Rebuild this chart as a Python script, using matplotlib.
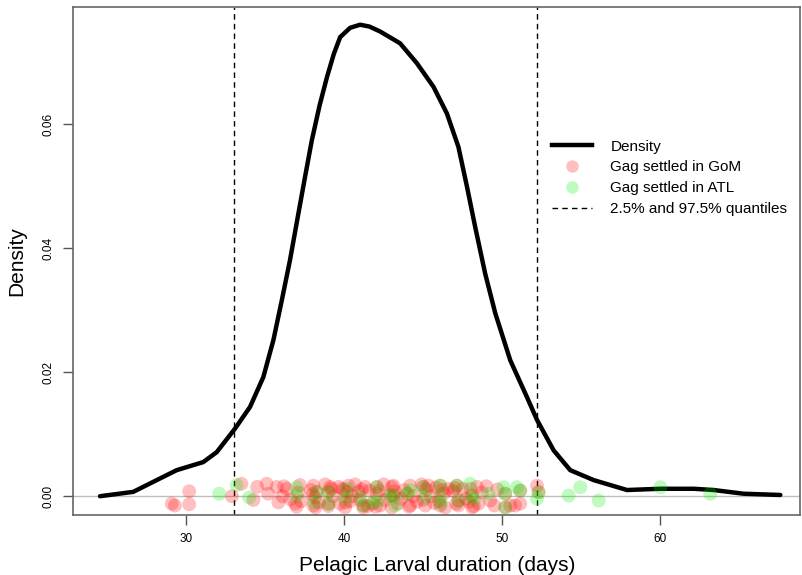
import matplotlib.pyplot as plt
from matplotlib.lines import Line2D

plt.rcParams['font.family'] = ['Liberation Sans', 'DejaVu Sans']

# density curve
dens_x = [24.56, 26.66, 28.15, 29.41, 31.09, 31.94, 33.10, 34.05, 34.89, 35.53,
          36.06, 36.58, 37.11, 37.53, 37.96, 38.45, 38.92, 39.35, 39.75, 40.38,
          41.01, 41.6, 42.28, 43.54, 44.60, 45.65, 46.50, 47.23, 47.77, 48.29,
          48.92, 49.56, 50.51, 51.56, 52.20, 53.25, 54.30, 55.78, 57.89, 60.0,
          62.11, 63.37, 65.27, 67.59]
dens_y = [0.0, 0.0007, 0.0026, 0.0042, 0.0055, 0.0071, 0.0109, 0.0144, 0.0192, 0.0252,
          0.0316, 0.0381, 0.0456, 0.0515, 0.0574, 0.0630, 0.0676, 0.0713, 0.0740, 0.0755,
          0.0760, 0.0757, 0.0749, 0.0730, 0.0698, 0.0660, 0.0617, 0.0563, 0.0499, 0.0434,
          0.0359, 0.0295, 0.0219, 0.0160, 0.0123, 0.0074, 0.0042, 0.0026, 0.0010, 0.0012,
          0.0012, 0.0010, 0.0004, 0.0002]

q_low, q_high = 33.05, 52.2

gom_x = [29.1, 29.3, 30.2, 30.2, 32.9, 33.5, 34.26, 34.5, 35.1, 35.2,
         35.74, 35.84, 36.37, 36.9, 38.06, 38.06, 38.16, 38.27, 39.11, 39.01,
         39.01, 39.64, 39.75, 40.17, 40.27, 40.06, 40.91, 41.22, 41.33, 42.07,
         42.07, 42.28, 42.91, 43.02, 43.12, 43.12, 44.18, 44.18, 45.02, 45.13,
         45.34, 46.08, 46.08, 46.6, 47.13, 47.23, 47.23, 48.08, 48.4, 48.5,
         49.24, 50.19, 50.19, 50.82, 50.51, 51.14, 51.14, 52.2, 52.3,
         36.1, 36.6, 37.2, 37.3, 37.9, 38.4, 38.8, 39.3, 39.9, 40.4,
         40.7, 41.0, 41.6, 41.8, 42.5, 42.6, 43.4, 43.8, 44.4, 44.6,
         44.9, 45.5, 45.7, 46.3, 46.4, 46.9, 47.5, 47.7, 48.2, 48.7,
         49.0, 49.5, 49.7,
         37.0, 37.1, 38.0, 38.2, 39.0, 39.2, 40.0, 40.1, 41.1, 41.2,
         42.0, 42.2, 43.0, 43.2, 44.0, 44.1, 45.0, 45.2, 46.0, 46.2,
         47.0, 47.1, 48.0, 48.1, 36.2, 40.5, 41.5, 43.6, 45.8, 47.9]
gom_y = [-0.0012, -0.0015, 0.0008, -0.0013, 0.0, 0.002, -0.0006, 0.0015, 0.002, 0.0004,
         0.0015, -0.001, 0.0012, -0.0012, 0.0017, -0.0015, -0.0002, 0.0007, 0.0015, -0.0012,
         0.0007, 0.0015, -0.0012, 0.0007, 0.0017, -0.0018, 0.0007, -0.0015, 0.0015, 0.0015,
         0.0004, -0.0015, 0.0001, 0.0015, 0.0017, 0.0001, 0.0017, -0.0015, 0.0015, -0.0015,
         0.0017, 0.0017, -0.0015, 0.0012, 0.0017, -0.0007, -0.0015, 0.0001, 0.0015, -0.0012,
         -0.0007, 0.0004, -0.0018, -0.0015, -0.0015, -0.0012, 0.0009, 0.0017, 0.00065,
         0.0, -0.0005, 0.0018, -0.0008, 0.001, -0.001, 0.0019, 0.0, 0.0012, -0.0008,
         0.0019, -0.0006, 0.0009, -0.0012, 0.0019, -0.0006, -0.0012, 0.001, 0.0, -0.0009,
         0.0019, 0.0, -0.0011, 0.0004, -0.0018, 0.0008, 0.0012, -0.0004, -0.0016, 0.0006,
         0.0016, -0.0015, 0.0011,
         -0.0017, 0.0006, 0.0003, -0.0018, -0.0016, 0.0012, 0.0010, -0.0010, 0.0011, -0.0018,
         -0.0017, 0.0009, -0.0018, 0.0008, 0.0004, -0.0017, -0.0006, 0.0011, -0.0008, 0.0010,
         0.0013, -0.0012, 0.0012, -0.0018, 0.0016, 0.0, -0.0016, -0.0004, 0.0014, -0.0009]

atl_x = [32.1, 33.2, 34.0, 37.01, 37.01, 38.27, 39.01, 39.01, 40.06, 41.01,
         41.22, 41.85, 42.07, 42.91, 43.23, 43.12, 43.97, 45.02, 45.13, 46.08,
         46.08, 47.13, 47.23, 47.97, 48.08, 49.13, 50.08, 50.19, 50.19, 50.93,
         51.14, 52.2, 52.3, 54.2, 54.94, 56.1, 60.0, 63.16,
         38.1, 40.2, 42.1, 44.2, 46.1, 48.2]
atl_y = [0.0004, 0.0018, -0.0002, 0.00145, 0.0001, 0.00065, 0.00065, -0.00124, -0.0004, -0.00016,
         -0.0015, -0.001, 0.00145, 0.0001, -0.0015, 0.0001, 0.0004, 0.00145, -0.00016, 0.0017,
         -0.00016, 0.0017, -0.0007, 0.002, 0.0001, 0.0004, 0.00145, 0.0004, -0.0018, 0.00145,
         0.0009, -0.0004, 0.00065, 0.0001, 0.00145, -0.0007, 0.00145, 0.0004,
         -0.0010, 0.0012, -0.0008, 0.0010, -0.0012, -0.0005]

fig = plt.figure(figsize=(8.02, 5.75), dpi=100)
ax = fig.add_axes([0.091, 0.104, 0.907, 0.884])

ax.axhline(0, color='#bdbdbd', lw=1, zorder=1)
ax.plot(dens_x, dens_y, color='black', lw=3.2, solid_capstyle='round',
        solid_joinstyle='round', zorder=3)
ax.axvline(q_low, color='black', ls=(0, (4, 3)), lw=1, zorder=2)
ax.axvline(q_high, color='black', ls=(0, (4, 3)), lw=1, zorder=2)
ax.scatter(gom_x, gom_y, s=100, color='red', alpha=0.25, edgecolors='none', zorder=4)
ax.scatter(atl_x, atl_y, s=100, color='#00ee00', alpha=0.25, edgecolors='none', zorder=5)

ax.set_xlim(22.85, 68.86)
ax.set_ylim(-0.00306, 0.07887)
ax.set_xticks([30, 40, 50, 60])
ax.set_yticks([0.0, 0.02, 0.04, 0.06])
ax.set_yticklabels(['0.00', '0.02', '0.04', '0.06'], rotation=90, va='center')
ax.tick_params(labelsize=8.5, length=7, width=1, color='#555555', pad=6)
for sp in ax.spines.values():
    sp.set_color('#666666')
    sp.set_linewidth(1.2)

ax.set_xlabel('Pelagic Larval duration (days)', fontsize=15, labelpad=8)
ax.set_ylabel('Density', fontsize=15, labelpad=12)

handles = [
    Line2D([], [], color='black', lw=3.2),
    Line2D([], [], ls='none', marker='o', ms=9, color='red', alpha=0.25, mec='none'),
    Line2D([], [], ls='none', marker='o', ms=9, color='#00ee00', alpha=0.25, mec='none'),
    Line2D([], [], color='black', ls=(0, (4, 3)), lw=1),
]
labels = ['Density', 'Gag settled in GoM', 'Gag settled in ATL', '2.5% and 97.5% quantiles']
ax.legend(handles, labels, loc='upper left', bbox_to_anchor=(0.64, 0.766),
          frameon=False, fontsize=11, handlelength=2.6, labelspacing=0.45,
          handletextpad=1.2)

fig.savefig('out.png', dpi=100)
